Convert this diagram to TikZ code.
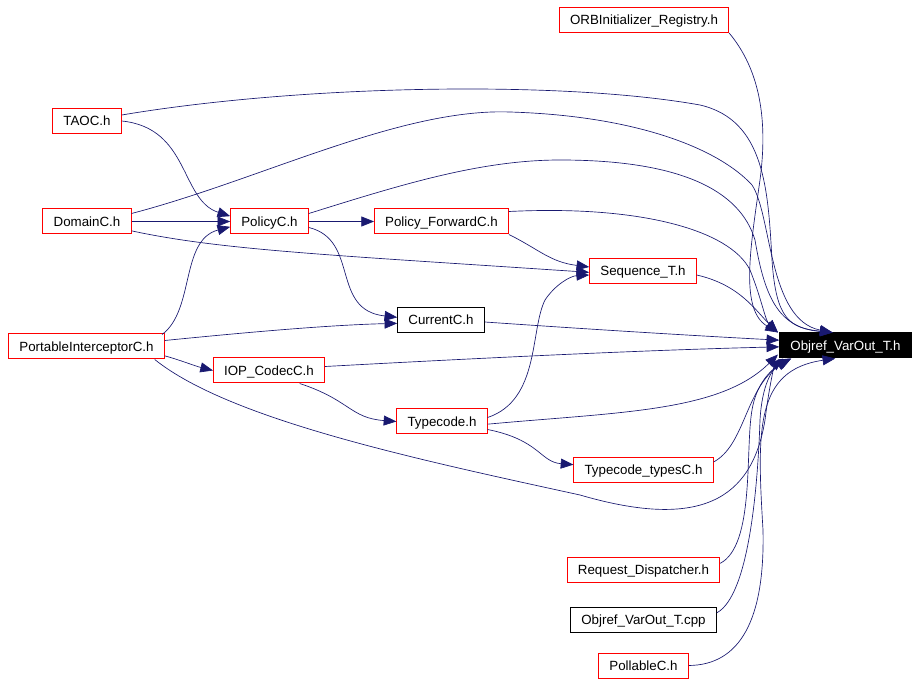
\documentclass[tikz,border=0pt]{standalone}
\usepackage{fontspec}
\setmainfont{Liberation Sans}
\usepackage{xcolor}
\usetikzlibrary{arrows.meta}
\definecolor{edgeblue}{HTML}{191970}

\tikzset{
  hdr/.style={draw=red, line width=0.75pt, fill=white, inner xsep=8pt, inner ysep=0pt,
    text height=8pt, text depth=1pt,
    minimum height=18.75pt, font=\fontsize{10}{12}\selectfont},
  plainhdr/.style={hdr, draw=black},
  mainhdr/.style={hdr, draw=black, fill=black, text=white},
  dep/.style={draw=edgeblue, line width=0.5pt, -{Triangle[length=9.5pt,width=7.5pt]}},
}

\begin{document}
\begin{tikzpicture}[x=0.75pt,y=-0.75pt]
  \useasboundingbox (0,0) rectangle (922,684);
  % files
  \node[hdr] (orbreg) at (644,20) {ORBInitializer\_Registry.h};
  \node[hdr] (taoc) at (87,121) {TAOC.h};
  \node[hdr] (domainc) at (87,221.5) {DomainC.h};
  \node[hdr] (policyc) at (269.5,221.5) {PolicyC.h};
  \node[hdr] (policyfwd) at (441.5,221.5) {Policy\_ForwardC.h};
  \node[hdr] (sequence) at (643,271) {Sequence\_T.h};
  \node[plainhdr] (currentc) at (441,320) {CurrentC.h};
  \node[hdr] (portable) at (86.5,346.5) {PortableInterceptorC.h};
  \node[hdr] (iopcodec) at (269,370.5) {IOP\_CodecC.h};
  \node[mainhdr] (objref) at (845.5,345.5) {Objref\_VarOut\_T.h};
  \node[hdr] (typecode) at (442,421.5) {Typecode.h};
  \node[hdr] (tctypes) at (643.5,470) {Typecode\_typesC.h};
  \node[hdr] (reqdisp) at (643.5,570) {Request\_Dispatcher.h};
  \node[plainhdr] (objrefcpp) at (643.5,619.5) {Objref\_VarOut\_T.cpp};
  \node[hdr] (pollable) at (643.5,665.5) {PollableC.h};
  % arrow ends on Objref_VarOut_T.h
  \coordinate (topa) at ([xshift=-1pt]objref.north west);
  \coordinate (topb) at ([xshift=40pt]objref.north west);
  \coordinate (lefta) at ([yshift=4pt]objref.west);
  \coordinate (leftb) at ([yshift=-1pt]objref.west);
  \coordinate (bota) at ([xshift=-1pt,yshift=3pt]objref.south west);
  \coordinate (botb) at ([xshift=3pt]objref.south west);
  \coordinate (botc) at ([xshift=7pt]objref.south west);
  \coordinate (botd) at ([xshift=9pt]objref.south west);
  \coordinate (bote) at ([xshift=42pt]objref.south west);
  % dependencies
  \draw[dep] (orbreg.south east) .. controls (760,70) and (768,120) .. (760,180)
    .. controls (750,250) and (740,310) .. (topa);
  \draw[dep] ([yshift=4.5pt]taoc.east) .. controls (300,85) and (560,80) .. (700,105)
    .. controls (765,120) and (768,190) .. (772,260) .. controls (776,320) and (790,328) .. (topb);
  \draw[dep] (taoc.east) .. controls (190,128) and (180,200) .. ([yshift=4pt]policyc.west);
  \draw[dep] ([yshift=6pt]domainc.east) .. controls (260,180) and (400,108) .. (510,112)
    .. controls (640,116) and (720,150) .. (752,185) .. controls (772,215) and (768,320) .. (topb);
  \draw[dep] (domainc.east) -- (policyc.west);
  \draw[dep] ([yshift=-7pt]domainc.east) .. controls (220,250) and (330,255) .. ([yshift=-1pt]sequence.west);
  \draw[dep] ([yshift=6pt]policyc.east) .. controls (400,185) and (480,160) .. (560,160)
    .. controls (680,160) and (740,190) .. (755,240) .. controls (765,300) and (780,328) .. (topb);
  \draw[dep] (policyc.east) -- (policyfwd.west);
  \draw[dep] ([yshift=-4.5pt]policyc.east) .. controls (360,240) and (330,310) .. ([yshift=2pt]currentc.west);
  \draw[dep] ([yshift=7.5pt]policyfwd.east) .. controls (640,205) and (730,230) .. (750,270)
    .. controls (762,300) and (765,320) .. (topa);
  \draw[dep] (policyfwd.south east) .. controls (540,250) and (550,262) .. ([yshift=3pt]sequence.west);
  \draw[dep] ([yshift=-3pt]sequence.east) .. controls (740,285) and (755,310) .. (topa);
  \draw[dep] ([yshift=-1.5pt]currentc.east) .. controls (600,330) and (700,336) .. (lefta);
  \draw[dep] ([xshift=-2pt,yshift=9pt]portable.east) .. controls (195,310) and (180,240) .. ([yshift=-4pt]policyc.west);
  \draw[dep] ([yshift=4.5pt]portable.east) .. controls (250,332) and (330,325) .. ([yshift=-2.5pt]currentc.west);
  \draw[dep] ([yshift=-7pt]portable.east) .. controls (180,360) and (195,366) .. (iopcodec.west);
  \draw[dep] ([xshift=-7.5pt]portable.south east) .. controls (230,420) and (420,460) .. (580,495)
    .. controls (700,530) and (752,500) .. (765,420) .. controls (770,380) and (775,365) .. (botb);
  \draw[dep] ([yshift=3pt]iopcodec.east) .. controls (500,357) and (650,350) .. (leftb);
  \draw[dep] ([xshift=-19pt]iopcodec.south east) .. controls (350,400) and (350,418) .. (typecode.west);
  \draw[dep] ([yshift=3pt]typecode.east) .. controls (540,400) and (530,330) .. (545,300)
    .. controls (555,285) and (570,276) .. ([yshift=-3pt]sequence.west);
  \draw[dep] ([yshift=-2pt]typecode.east) .. controls (620,412) and (720,412) .. (bota);
  \draw[dep] ([yshift=-6pt]typecode.east) .. controls (540,440) and (540,462) .. ([yshift=4pt]tctypes.west);
  \draw[dep] ([yshift=6pt]tctypes.east) .. controls (745,445) and (745,390) .. (botc);
  \draw[dep] ([yshift=5pt]reqdisp.east) .. controls (755,545) and (745,450) .. (752,410)
    .. controls (756,385) and (770,370) .. (botd);
  \draw[dep] ([yshift=5pt]objrefcpp.east) .. controls (750,595) and (758,480) .. (760,420)
    .. controls (762,385) and (772,368) .. (botd);
  \draw[dep] (pollable.east) .. controls (740,665) and (765,620) .. (763,530)
    .. controls (757,430) and (755,370) .. (bote);
\end{tikzpicture}
\end{document}
